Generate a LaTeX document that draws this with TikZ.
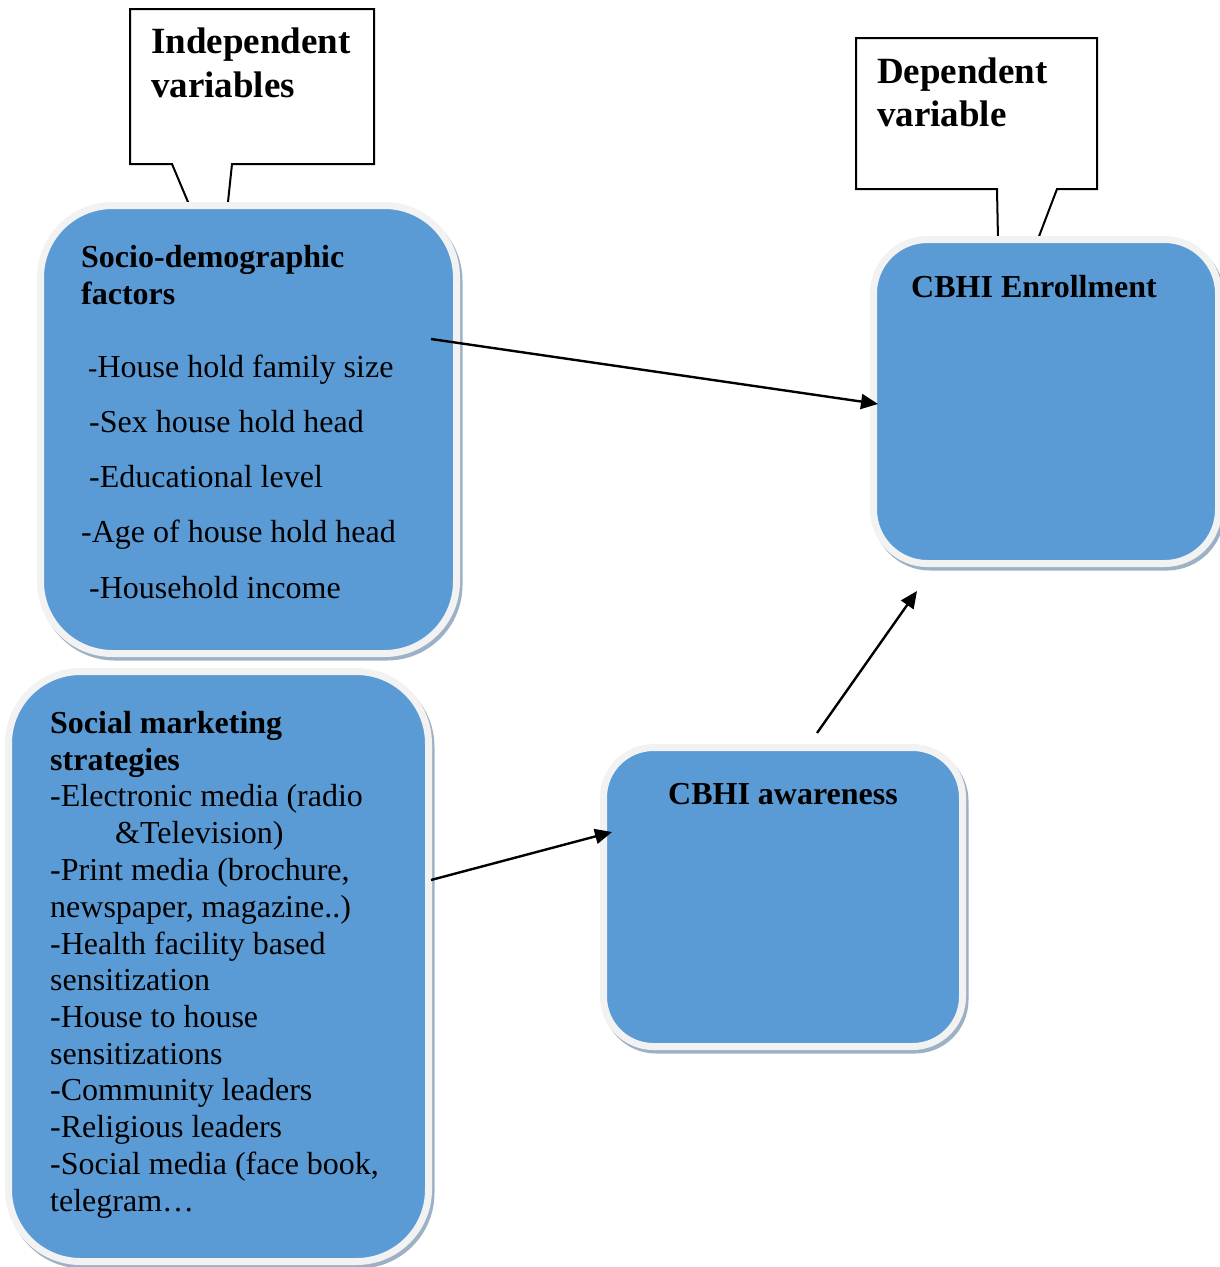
\documentclass[tikz,border=0pt]{standalone}
\usepackage{fontspec}
\setmainfont{Liberation Serif}
\usetikzlibrary{arrows.meta,calc}
\definecolor{boxblue}{HTML}{5B9BD5}
\definecolor{boxrim}{HTML}{F2F2F2}
\definecolor{boxshade}{HTML}{9DB1C6}
\tikzset{
  panel/.style={rectangle, draw=boxrim, line width=7pt, fill=boxblue, inner sep=0pt,
    rounded corners=#1,
    preaction={draw=boxshade, fill=boxshade, line width=7pt,
      transform canvas={shift={(2.5pt,-3.5pt)}}}},
  callout/.style={draw=black, line width=2pt, fill=white, line join=miter},
  txt/.style={anchor=base west, inner sep=0pt, font=\fontsize{32}{37}\selectfont},
  hd/.style={anchor=base west, inner sep=0pt, font=\bfseries\fontsize{32}{37}\selectfont},
  calltxt/.style={anchor=base west, inner sep=0pt, font=\bfseries\fontsize{37}{44}\selectfont},
  conn/.style={line width=2.4pt, -{Triangle[length=17pt,width=15pt]}}
}
\begin{document}
\begin{tikzpicture}[x=1pt,y=-1pt]
\useasboundingbox (0,0) rectangle (1219,1267);
% callouts
\draw[callout] (130,9) -- (374,9) -- (374,164) -- (232,164) -- (220,278) -- (172,164) -- (130,164) -- cycle;
\draw[callout] (856,38) -- (1097,38) -- (1097,189) -- (1057,189) -- (1000,339) -- (997,189) -- (856,189) -- cycle;
\node[calltxt] (iv1) at (151,53) {Independent};
\node[calltxt] (iv2) at (151,97) {variables};
\node[calltxt] (dv1) at (877,83) {Dependent};
\node[calltxt] (dv2) at (877,126) {variable};
% boxes
\node[panel=72, minimum width=416, minimum height=448] (socio) at (248.5,429.5) {};
\node[panel=72, minimum width=420, minimum height=590] (social) at (218.5,966.5) {};
\node[panel=54, minimum width=345, minimum height=324] (enroll) at (1046,401.5) {};
\node[panel=50, minimum width=359, minimum height=299] (aware) at (783,897) {};
% socio text
\node[hd] (s1) at (81,267) {Socio-demographic};
\node[hd] (s2) at (81,304) {factors};
\node[txt] (s3) at (88,377) {{\fontsize{28}{28}\selectfont -}House hold family size};
\node[txt] (s4) at (89,432) {-Sex house hold head};
\node[txt] (s5) at (89,487) {-Educational level};
\node[txt] (s6) at (81,542) {-Age of house hold head};
\node[txt] (s7) at (89,598) {-Household income};
% social marketing text
\node[hd] (m1) at (50,733) {Social marketing};
\node[hd] (m2) at (50,770) {strategies};
\node[txt] (m3) at (50,806) {-Electronic media (radio};
\node[txt] (m4) at (115,843) {\&Television)};
\node[txt] (m5) at (50,880) {-Print media (brochure,};
\node[txt] (m6) at (50,917) {newspaper, magazine..)};
\node[txt] (m7) at (50,954) {-Health facility based};
\node[txt] (m8) at (50,990) {sensitization};
\node[txt] (m9) at (50,1027) {-House to house};
\node[txt] (m10) at (50,1064) {sensitizations};
\node[txt] (m11) at (50,1100) {-Community leaders};
\node[txt] (m12) at (50,1137) {-Religious leaders};
\node[txt] (m13) at (50,1174) {-Social media (face book,};
\node[txt] (m14) at (50,1211) {telegram…};
% headings in right boxes
\node[hd] (e1) at (911,297) {CBHI Enrollment};
\node[hd] (w1) at (668,804) {CBHI awareness};
% connectors
\coordinate (a1s) at (431,339);
\coordinate (a1e) at (878,404);
\coordinate (a2s) at (431,880);
\coordinate (a2e) at (612,832);
\coordinate (a3s) at (817,733);
\coordinate (a3e) at (917,591);
\draw[conn] (a1s) -- (a1e);
\draw[conn] (a2s) -- (a2e);
\draw[conn] (a3s) -- (a3e);
\end{tikzpicture}
\end{document}
